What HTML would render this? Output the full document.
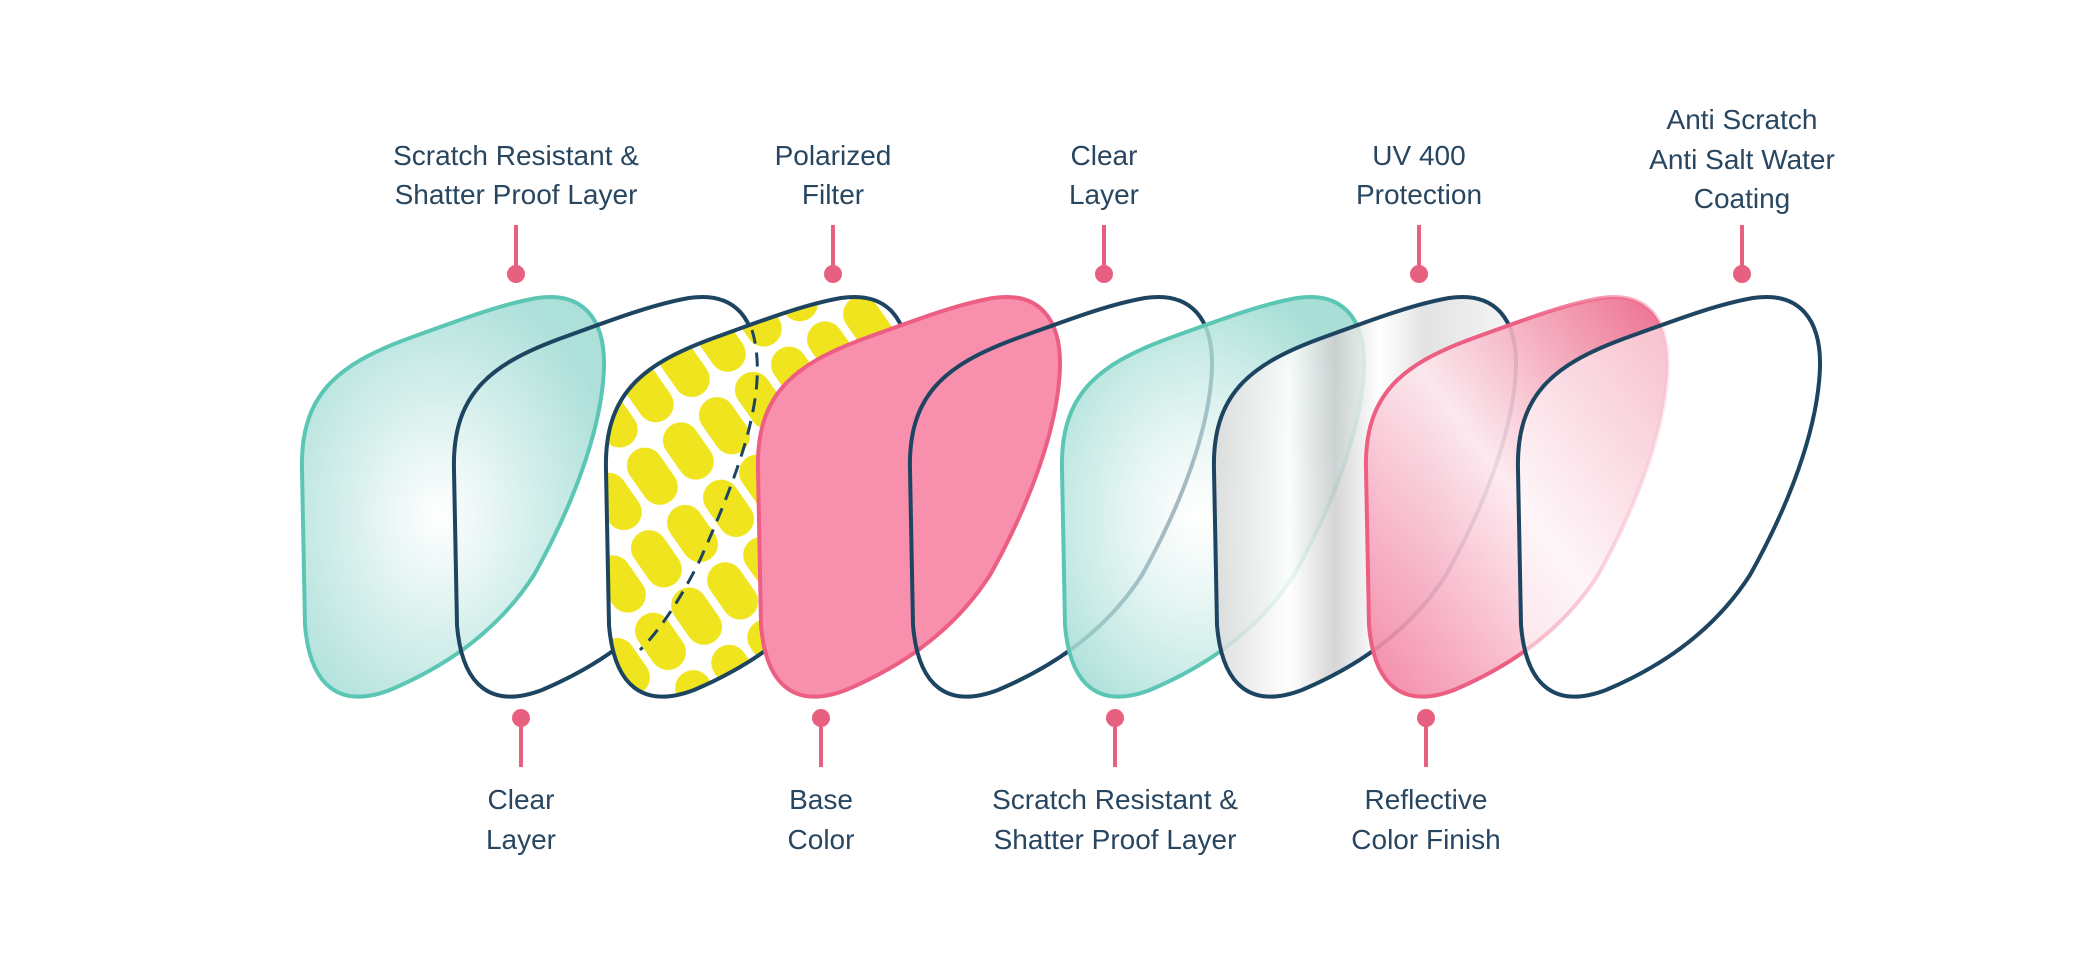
<!DOCTYPE html>
<html><head><meta charset="utf-8"><style>
html,body{margin:0;padding:0;background:#fff;}
svg{display:block}
text{font-family:"Liberation Sans",sans-serif;font-size:28px;fill:#294660;text-anchor:middle}
</style></head><body>
<svg width="2074" height="974" viewBox="0 0 2074 974" xmlns="http://www.w3.org/2000/svg">
<defs>
<path id="L" d="M3,330 L0,175 C-2,100 35,70 105,44 C150,28 195,10 235,3 C282,-4 303,25 302,72 C300,135 270,212 232,280 C192,342 135,375 88,395 C38,414 8,392 3,330 Z"/>
<radialGradient id="tg" cx="0.45" cy="0.55" r="0.6">
<stop offset="0" stop-color="#ffffff"/><stop offset="1" stop-color="#aee0da"/></radialGradient>
<radialGradient id="tg2" cx="0.45" cy="0.55" r="0.6">
<stop offset="0" stop-color="#ffffff" stop-opacity="0.6"/><stop offset="1" stop-color="#9edbd2" stop-opacity="0.9"/></radialGradient>
<linearGradient id="sg" x1="0" y1="0" x2="1" y2="0">
<stop offset="0" stop-color="#d8d8d8"/><stop offset="0.25" stop-color="#ffffff"/><stop offset="0.4" stop-color="#cfcfcf"/><stop offset="0.55" stop-color="#ffffff"/><stop offset="0.7" stop-color="#dedede"/><stop offset="1" stop-color="#f4f4f4"/></linearGradient>
<linearGradient id="pg" x1="0" y1="1" x2="1" y2="0">
<stop offset="0" stop-color="#f27a9d"/><stop offset="0.5" stop-color="#fde8ee"/><stop offset="1" stop-color="#ea5c80"/></linearGradient>
<linearGradient id="ps" x1="0" y1="0" x2="1" y2="0">
<stop offset="0.5" stop-color="#ec5f82"/><stop offset="1" stop-color="#ec5f82" stop-opacity="0.3"/></linearGradient>
<pattern id="yp" width="44" height="70" patternUnits="userSpaceOnUse" patternTransform="rotate(-35)">
<rect width="44" height="70" fill="#fff"/>
<rect x="4" y="4" width="36" height="62" rx="18" fill="#efe41d"/>
</pattern>
</defs>

<use href="#L" transform="translate(302,295)" fill="url(#tg)" stroke="#5cc6b4" stroke-width="4"/>
<use href="#L" transform="translate(454,295)" fill="none" stroke="#1d4460" stroke-width="4"/>
<use href="#L" transform="translate(606,295)" fill="url(#yp)" stroke="#1d4460" stroke-width="4"/>
<path d="M752,330 C770,390 740,470 700,560 C680,600 660,630 640,650" fill="none" stroke="#1d4460" stroke-width="3" stroke-dasharray="14 9"/>
<use href="#L" transform="translate(758,295)" fill="#f78fad" stroke="#ec5f82" stroke-width="4"/>
<use href="#L" transform="translate(910,295)" fill="none" stroke="#1d4460" stroke-width="4"/>
<use href="#L" transform="translate(1062,295)" fill="url(#tg2)" stroke="#5cc6b4" stroke-width="4"/>
<use href="#L" transform="translate(1214,295)" fill="url(#sg)" fill-opacity="0.85" stroke="#1d4460" stroke-width="4"/>
<use href="#L" transform="translate(1366,295)" fill="url(#pg)" fill-opacity="0.9" stroke="url(#ps)" stroke-width="4"/>
<use href="#L" transform="translate(1518,295)" fill="#fff" fill-opacity="0.55" stroke="#1d4460" stroke-width="4"/>

<g stroke="#e8607f" stroke-width="4" fill="#e8607f">
<line x1="516" y1="225" x2="516" y2="272"/><circle cx="516" cy="274" r="7"/>
<line x1="833" y1="225" x2="833" y2="272"/><circle cx="833" cy="274" r="7"/>
<line x1="1104" y1="225" x2="1104" y2="272"/><circle cx="1104" cy="274" r="7"/>
<line x1="1419" y1="225" x2="1419" y2="272"/><circle cx="1419" cy="274" r="7"/>
<line x1="1742" y1="225" x2="1742" y2="272"/><circle cx="1742" cy="274" r="7"/>
<line x1="521" y1="720" x2="521" y2="767"/><circle cx="521" cy="718" r="7"/>
<line x1="821" y1="720" x2="821" y2="767"/><circle cx="821" cy="718" r="7"/>
<line x1="1115" y1="720" x2="1115" y2="767"/><circle cx="1115" cy="718" r="7"/>
<line x1="1426" y1="720" x2="1426" y2="767"/><circle cx="1426" cy="718" r="7"/>
</g>

<text x="516" y="165">Scratch Resistant &amp;</text><text x="516" y="204">Shatter Proof Layer</text>
<text x="833" y="165">Polarized</text><text x="833" y="204">Filter</text>
<text x="1104" y="165">Clear</text><text x="1104" y="204">Layer</text>
<text x="1419" y="165">UV 400</text><text x="1419" y="204">Protection</text>
<text x="1742" y="129">Anti Scratch</text><text x="1742" y="169">Anti Salt Water</text><text x="1742" y="208">Coating</text>
<text x="521" y="809">Clear</text><text x="521" y="849">Layer</text>
<text x="821" y="809">Base</text><text x="821" y="849">Color</text>
<text x="1115" y="809">Scratch Resistant &amp;</text><text x="1115" y="849">Shatter Proof Layer</text>
<text x="1426" y="809">Reflective</text><text x="1426" y="849">Color Finish</text>
</svg>
</body></html>
